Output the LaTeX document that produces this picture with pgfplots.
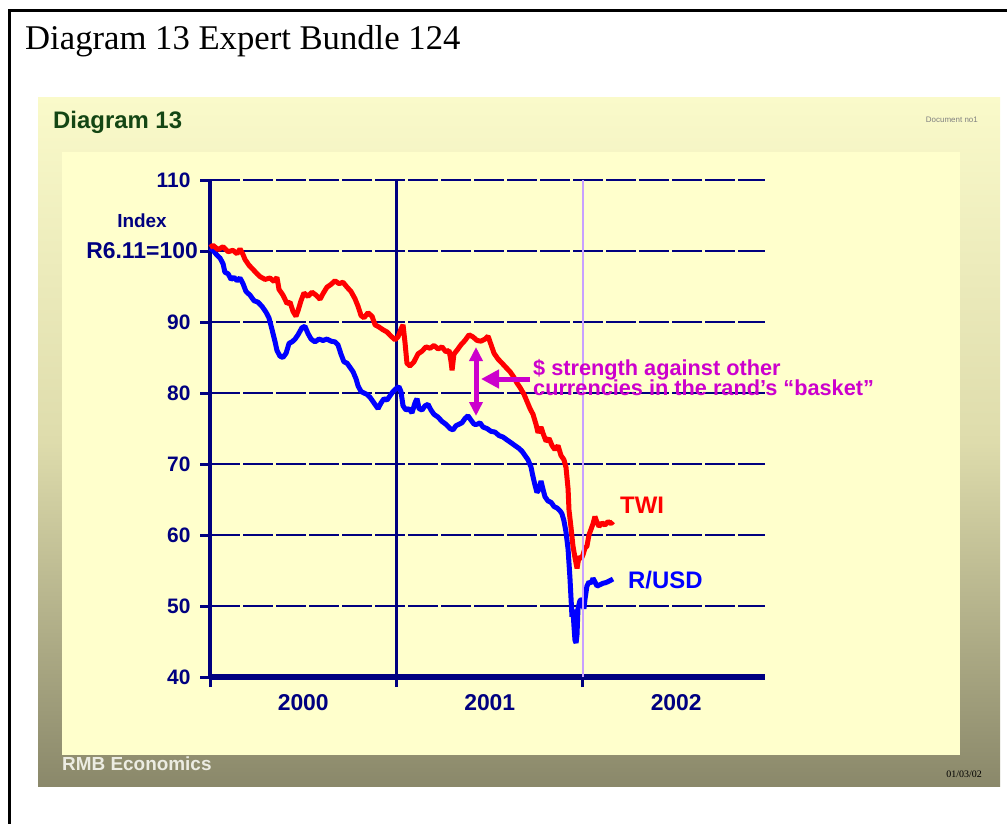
\documentclass[border=0pt]{standalone}
\usepackage{pgfplots}
\pgfplotsset{compat=1.18}
\usepackage{pgfplotstable}
\usepackage{fontspec}
\setmainfont{Liberation Serif}
\newfontfamily\arial{Liberation Sans}
\usetikzlibrary{arrows.meta}
\definecolor{navy}{RGB}{0,0,128}
\definecolor{panel}{RGB}{255,255,204}
\definecolor{slidetop}{RGB}{250,250,202}
\definecolor{slidemid}{RGB}{222,220,172}
\definecolor{slidebot}{RGB}{138,136,106}
\definecolor{dgreen}{RGB}{20,70,20}
\definecolor{mag}{RGB}{204,0,204}
\definecolor{lav}{RGB}{200,160,255}

\pgfplotstableread{
x v
2000.000 100.5
2000.016 100.8
2000.043 100.2
2000.070 100.6
2000.097 99.9
2000.123 100.1
2000.145 99.6
2000.161 100.3
2000.177 99.5
2000.188 98.8
2000.209 98.0
2000.231 97.4
2000.252 96.8
2000.268 96.4
2000.295 96.0
2000.322 96.2
2000.343 95.7
2000.359 96.3
2000.370 94.6
2000.391 93.8
2000.413 92.6
2000.429 92.8
2000.445 91.5
2000.461 90.8
2000.472 91.6
2000.488 93.0
2000.504 94.1
2000.525 93.6
2000.547 94.2
2000.568 93.8
2000.590 93.2
2000.606 94.0
2000.627 94.9
2000.649 95.3
2000.670 95.8
2000.692 95.4
2000.713 95.6
2000.735 94.9
2000.756 94.3
2000.777 93.3
2000.794 92.2
2000.810 90.9
2000.826 90.6
2000.847 91.3
2000.869 90.8
2000.885 89.6
2000.906 89.3
2000.928 88.9
2000.949 88.6
2000.971 88.0
2000.992 87.5
2001.008 87.9
2001.024 89.0
2001.035 89.6
2001.046 87.0
2001.056 84.2
2001.072 83.8
2001.094 84.4
2001.115 85.5
2001.137 85.9
2001.158 86.5
2001.180 86.3
2001.201 86.7
2001.223 86.2
2001.244 86.5
2001.265 85.8
2001.282 86.0
2001.292 84.5
2001.298 83.2
2001.308 85.5
2001.324 86.0
2001.346 86.8
2001.367 87.4
2001.389 88.2
2001.410 87.9
2001.432 87.4
2001.453 87.3
2001.475 87.6
2001.491 88.0
2001.507 86.8
2001.523 85.6
2001.544 84.8
2001.566 84.2
2001.587 83.6
2001.609 83.0
2001.630 82.2
2001.646 81.4
2001.662 80.8
2001.684 79.8
2001.700 78.8
2001.716 77.8
2001.732 77.0
2001.748 75.6
2001.759 74.4
2001.775 75.2
2001.786 74.3
2001.802 73.2
2001.818 73.6
2001.834 72.6
2001.850 72.0
2001.866 72.6
2001.882 71.2
2001.898 70.6
2001.909 69.5
2001.920 66.5
2001.925 63.5
2001.936 61.0
2001.946 58.5
2001.957 56.8
2001.968 55.3
2001.979 57.0
2001.989 56.6
2002.000 57.2
2002.011 58.2
2002.021 58.4
2002.032 60.0
2002.043 60.8
2002.054 61.6
2002.064 62.6
2002.075 61.8
2002.086 61.2
2002.102 61.7
2002.118 61.4
2002.134 61.9
2002.150 61.6
2002.161 61.9
}\twi

\pgfplotstableread{
x v
2000.000 100.4
2000.016 100.1
2000.038 99.4
2000.054 99.0
2000.070 98.2
2000.080 97.0
2000.097 96.8
2000.113 96.0
2000.129 96.3
2000.145 95.8
2000.161 96.2
2000.177 95.4
2000.193 94.3
2000.214 93.8
2000.236 93.0
2000.257 92.8
2000.279 92.2
2000.300 91.4
2000.316 90.6
2000.332 89.0
2000.349 87.2
2000.359 86.0
2000.375 85.2
2000.391 85.0
2000.408 85.6
2000.424 87.0
2000.440 87.2
2000.456 87.6
2000.472 88.2
2000.493 89.2
2000.509 89.4
2000.525 88.4
2000.542 87.6
2000.563 87.2
2000.584 87.6
2000.606 87.4
2000.627 87.6
2000.649 87.3
2000.670 87.2
2000.686 86.8
2000.702 85.5
2000.718 84.4
2000.735 84.2
2000.751 83.6
2000.767 83.0
2000.783 82.0
2000.794 81.0
2000.810 80.2
2000.826 80.0
2000.842 79.8
2000.858 79.4
2000.874 78.8
2000.890 78.2
2000.901 77.8
2000.917 78.6
2000.933 79.2
2000.949 79.0
2000.965 79.6
2000.981 80.2
2000.997 80.6
2001.013 80.9
2001.024 80.2
2001.035 78.2
2001.051 77.6
2001.067 77.8
2001.083 77.2
2001.099 78.6
2001.110 79.2
2001.121 77.8
2001.137 77.6
2001.153 78.2
2001.169 78.4
2001.185 77.6
2001.201 77.0
2001.223 76.6
2001.244 76.0
2001.265 75.6
2001.287 75.0
2001.303 74.8
2001.319 75.4
2001.335 75.6
2001.351 75.8
2001.367 76.4
2001.383 76.8
2001.399 76.2
2001.416 75.6
2001.432 75.6
2001.448 75.8
2001.464 75.2
2001.485 75.0
2001.507 74.6
2001.528 74.5
2001.550 74.0
2001.571 73.8
2001.592 73.4
2001.614 73.0
2001.635 72.6
2001.657 72.2
2001.673 71.8
2001.689 71.2
2001.705 70.6
2001.721 69.6
2001.732 68.2
2001.743 67.0
2001.753 66.0
2001.764 66.4
2001.775 67.6
2001.786 66.4
2001.796 65.4
2001.812 64.8
2001.829 64.6
2001.845 64.0
2001.861 63.8
2001.877 63.4
2001.887 63.0
2001.898 62.0
2001.909 60.4
2001.920 58.0
2001.925 56.0
2001.930 54.0
2001.936 51.0
2001.941 48.5
2001.946 49.5
2001.952 47.0
2001.957 45.2
2001.963 44.8
2001.968 46.0
2001.973 49.6
2001.984 50.8
2001.995 50.9
2002.005 49.6
2002.011 51.0
2002.021 52.8
2002.032 53.4
2002.043 53.2
2002.054 53.9
2002.064 53.4
2002.075 52.8
2002.091 53.0
2002.107 53.2
2002.123 53.3
2002.139 53.5
2002.161 53.8
}\rusd

\begin{document}
\begin{tikzpicture}
\begin{scope}[x=1bp,y=-1bp]
\useasboundingbox (0,0) rectangle (1007,824);
\fill[white] (0,0) rectangle (1007,824);
\draw[line width=3bp] (9,824) -- (9,10) -- (1007,10);
\shade[top color=slidetop, bottom color=slidebot, middle color=slidemid] (38,97) rectangle (1000,786);
\fill[panel] (62,152) rectangle (960,755);
\node[anchor=base west, inner sep=0, font=\fontsize{34.8}{34.8}\selectfont] at (25,49) {Diagram 13 Expert Bundle 124};
\node[anchor=base west, inner sep=0, text=dgreen, font=\arial\bfseries\fontsize{24}{24}\selectfont] at (53,128) {Diagram 13};
\node[anchor=base east, inner sep=0, text=gray, font=\arial\fontsize{8}{8}\selectfont] at (978,122) {Document no1};
\node[anchor=base west, inner sep=0, text={rgb,255:red,236;green,236;blue,226}, font=\arial\bfseries\fontsize{19}{19}\selectfont] at (62,770) {RMB Economics};
\node[anchor=base east, inner sep=0, font=\fontsize{10}{10}\selectfont] at (982,777) {01/03/02};
\node[anchor=base, inner sep=0, text=navy, font=\arial\bfseries\fontsize{19}{19}\selectfont] at (142,227) {Index};
\node[anchor=base east, inner sep=0, text=navy, font=\arial\bfseries\fontsize{23}{23}\selectfont] at (198,258) {R6.11=100};
\end{scope}

\begin{axis}[
  at={(210bp,-677bp)}, anchor=south west,
  scale only axis, width=555bp, height=497bp,
  xmin=2000, xmax=2002.976, ymin=40, ymax=110,
  axis x line=bottom, axis y line=left,
  x axis line style={-, line width=6bp, navy},
  y axis line style={-, line width=4bp, navy},
  xtick={2000,2001,2002}, xticklabels={},
  extra x ticks={2000.5,2001.5,2002.5},
  extra x tick labels={2000,2001,2002},
  extra x tick style={major tick length=0pt, grid=none,
    xticklabel style={yshift=-14bp, font=\arial\bfseries\fontsize{23}{23}\selectfont}},
  ytick={40,50,60,70,80,90,100,110},
  yticklabels={40,50,60,70,80,90,,110},
  yticklabel style={xshift=-6bp},
  major tick length=10bp,
  tick align=outside,
  tick style={navy, line width=3bp},
  ticklabel style={font=\arial\bfseries\fontsize{21}{21}\selectfont, text=navy},
  ymajorgrids, xmajorgrids=false,
  grid style={navy, line width=2.5bp, dash pattern=on 30bp off 3bp},
  clip=false,
]
\draw[navy, line width=2.5bp] (axis cs:2001,40) -- (axis cs:2001,110);
\addplot[blue, line width=5bp, line join=bevel, no marks] table[x=x,y=v] {\rusd};
\addplot[red, line width=5bp, line join=bevel, no marks] table[x=x,y=v] {\twi};
\draw[lav, line width=2bp] (axis cs:2002,40) -- (axis cs:2002,110);
\end{axis}

\begin{scope}[x=1bp,y=-1bp]
\draw[mag, line width=5bp, {Triangle[width=13bp,length=14bp]}-{Triangle[width=13bp,length=14bp]}] (476,347) -- (476,416);
\draw[mag, line width=5bp, -{Triangle[width=18bp,length=18bp]}] (530,379) -- (481,379);
\node[anchor=base west, inner sep=0, text=mag, font=\arial\bfseries\fontsize{21.8}{21.8}\selectfont] at (533,375) {\$ strength against other};
\node[anchor=base west, inner sep=0, text=mag, font=\arial\bfseries\fontsize{21.8}{21.8}\selectfont] at (533,395) {currencies in the rand’s “basket”};
\node[anchor=base west, inner sep=0, text=red, font=\arial\bfseries\fontsize{24}{24}\selectfont] at (620,513) {TWI};
\node[anchor=base west, inner sep=0, text=blue, font=\arial\bfseries\fontsize{24}{24}\selectfont] at (628,588) {R/USD};
\end{scope}
\end{tikzpicture}
\end{document}
